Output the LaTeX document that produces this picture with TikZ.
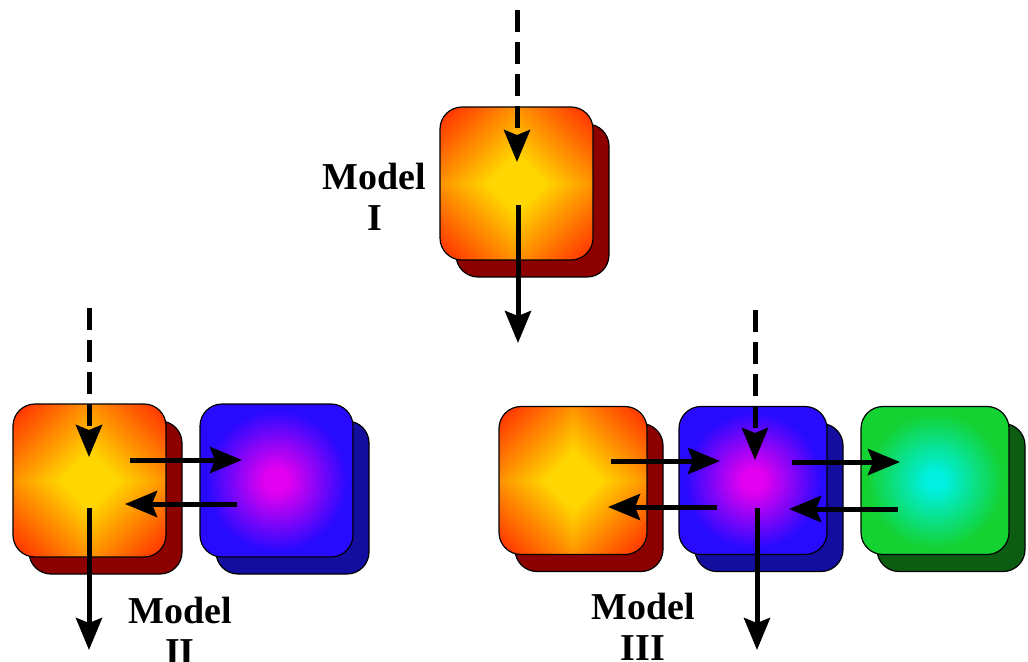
\documentclass[tikz,border=0pt]{standalone}
\usepackage{fontspec}
\setmainfont{Liberation Serif}
\usetikzlibrary{arrows.meta,calc}
\definecolor{shred}{RGB}{140,0,0}
\definecolor{shblue}{RGB}{20,14,160}
\definecolor{shgreen}{RGB}{12,92,18}
\definecolor{magc}{RGB}{225,0,240}
\definecolor{bluec}{RGB}{40,10,255}
\definecolor{cyanc}{RGB}{0,240,225}
\definecolor{greenc}{RGB}{20,210,50}
\pgfdeclarefunctionalshading{orangediamond}{\pgfpoint{-50bp}{-50bp}}{\pgfpoint{50bp}{50bp}}{}{
  abs exch abs add 50 div 0.85 mul 1.0 exch sub
  dup 0.84 gt {pop 0.84} if
  dup 0.2 lt {pop 0.2} if
  1 exch 0
}
\pgfdeclareradialshading{blueglow}{\pgfpoint{0bp}{0bp}}{color(0bp)=(magc); color(4bp)=(magc); color(23bp)=(bluec); color(50bp)=(bluec)}
\pgfdeclareradialshading{greenglow}{\pgfpoint{0bp}{0bp}}{color(0bp)=(cyanc); color(3bp)=(cyanc); color(23bp)=(greenc); color(50bp)=(greenc)}
\tikzset{
  box/.style={draw=black, line width=0.6pt, rounded corners=11pt, minimum width=#1, minimum height=#1, inner sep=0pt},
  box/.default=76.5pt,
  flow/.style={line width=2.5pt, -{Stealth[length=16pt,width=13pt,inset=2.5pt]}},
  inflow/.style={flow, dash pattern=on 11pt off 5pt},
  lbl/.style={font=\fontsize{19}{20.5}\selectfont\bfseries, align=center, inner sep=0pt}
}
\begin{document}
\begin{tikzpicture}[x=0.5pt,y=-0.5pt]
\useasboundingbox (0,0) rectangle (1028,661);
% Model I
\node[box, fill=shred] (m1s) at (532.5,200.5) {};
\node[box, shading=orangediamond] (m1) at (516.5,183.5) {};
\node[lbl] (l1) at (374.5,197) {Model\\I};
% Model II
\node[box, fill=shred] (o2s) at (105.5,497.5) {};
\node[box, shading=orangediamond] (o2) at (89.5,480.5) {};
\node[box, fill=shblue] (b2s) at (292.5,497.5) {};
\node[box, shading=blueglow] (b2) at (276.5,480.5) {};
\node[lbl] (l2) at (180,631) {Model\\II};
% Model III
\node[box=74pt, fill=shred] (o3s) at (589,497.5) {};
\node[box=74pt, shading=orangediamond] (o3) at (573,480.5) {};
\node[box=74pt, fill=shblue] (b3s) at (769,497.5) {};
\node[box=74pt, shading=blueglow] (b3) at (753,480.5) {};
\node[box=74pt, fill=shgreen] (g3s) at (951,497.5) {};
\node[box=74pt, shading=greenglow] (g3) at (935,480.5) {};
\node[lbl] (l3) at (643,627) {Model\\III};
% connectors Model I
\coordinate (in1) at (517,10);
\coordinate (out1) at (518,343);
\draw[inflow] (in1) -- ($(m1.center)+(0.5,-21.5)$);
\draw[flow] ($(m1.center)+(1.5,21.5)$) -- (out1);
% connectors Model II
\coordinate (in2) at (89,308);
\coordinate (out2) at (89,650);
\draw[inflow] (in2) -- ($(o2.center)+(-0.5,-23.5)$);
\draw[flow] ($(o2.center)+(-0.5,27.5)$) -- (out2);
\draw[flow] ($(o2.center)+(40.5,-20.5)$) -- ($(b2.center)+(-34.5,-20.5)$);
\draw[flow] ($(b2.center)+(-39.5,23.5)$) -- ($(o2.center)+(35.5,23.5)$);
% connectors Model III
\coordinate (in3) at (755,310);
\coordinate (out3) at (757,650);
\draw[inflow] (in3) -- ($(b3.center)+(2,-20.5)$);
\draw[flow] ($(b3.center)+(4,27.5)$) -- (out3);
\draw[flow] ($(o3.center)+(38,-19.5)$) -- ($(b3.center)+(-33,-19.5)$);
\draw[flow] ($(b3.center)+(-36,26.5)$) -- ($(o3.center)+(35,26.5)$);
\draw[flow] ($(b3.center)+(39,-18.5)$) -- ($(g3.center)+(-35,-18.5)$);
\draw[flow] ($(g3.center)+(-37,28.5)$) -- ($(b3.center)+(36,28.5)$);
\end{tikzpicture}
\end{document}
